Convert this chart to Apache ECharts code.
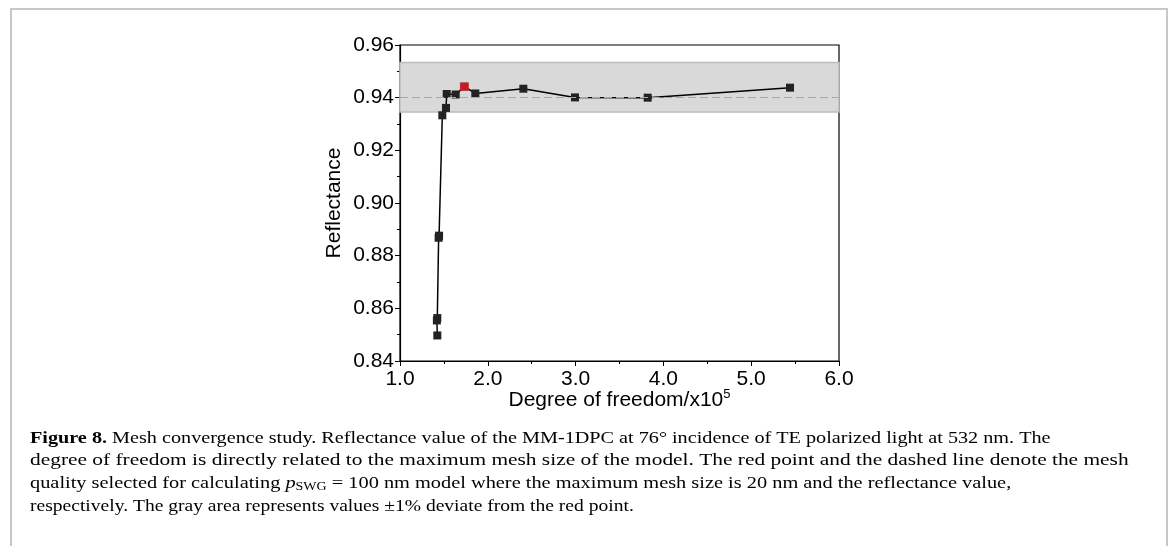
<!DOCTYPE html>
<html>
<head>
<meta charset="utf-8">
<script src="https://cdn.jsdelivr.net/npm/echarts@6/dist/echarts.min.js"></script>
<style>
html,body{margin:0;padding:0;background:#fff;}
#chart{width:1174px;height:546px;}
</style>
</head>
<body>
<div id="chart"></div>
<script>
// Degree of freedom (x10^5) and reflectance
const dof = [1.425, 1.42, 1.425, 1.44, 1.445, 1.482, 1.524, 1.532, 1.634, 1.733, 1.858, 2.405, 2.993, 3.821, 5.442];
const reflectance = [0.8497, 0.8554, 0.8563, 0.8868, 0.8876, 0.9333, 0.9361, 0.9414, 0.9412, 0.9442, 0.9416, 0.9434, 0.9401, 0.9400, 0.9438];
const selectedPoint = [1.733, 0.9442];
const selectedValue = 0.944;
const bandLow = 0.9346;
const bandHigh = 0.9534;
const xTicks = ['1.0', '2.0', '3.0', '4.0', '5.0', '6.0'];
const yTicks = ['0.84', '0.86', '0.88', '0.90', '0.92', '0.94', '0.96'];
const xTitle = 'Degree of freedom/x10{sup|5}';
const yTitle = 'Reflectance';
const captionLines = [
  '{b|Figure 8.} Mesh convergence study. Reflectance value of the MM-1DPC at 76° incidence of TE polarized light at 532 nm. The',
  'degree of freedom is directly related to the maximum mesh size of the model. The red point and the dashed line denote the mesh',
  'quality selected for calculating {i|p}{sub|SWG} = 100 nm model where the maximum mesh size is 20 nm and the reflectance value,',
  'respectively. The gray area represents values ±1% deviate from the red point.'
];
// horizontal stretch per caption line (layout only)
const captionStretch = [1.154, 1.222, 1.163, 1.117];

const chart = echarts.init(document.getElementById('chart'), null, {renderer: 'canvas'});
const axisFont = 'Liberation Sans, Arial, sans-serif';
const capFont = 'Liberation Serif, Times New Roman, serif';
const capSize = 17.5;

const option = {
  animation: false,
  backgroundColor: '#fff',
  grid: {left: 400, right: 335, top: 45, bottom: 185, show: true, borderColor: '#000', borderWidth: 1.2, backgroundColor: 'transparent'},
  xAxis: {
    type: 'value', min: 1, max: 6, interval: 1,
    axisLine: {show: true, lineStyle: {color: '#000', width: 1.2}},
    axisTick: {show: true, inside: false, length: 5, lineStyle: {color: '#000'}},
    minorTick: {show: true, splitNumber: 2, length: 3, lineStyle: {color: '#000'}},
    splitLine: {show: false},
    axisLabel: {color: '#000', fontFamily: axisFont, fontSize: 21, margin: 8,
      formatter: v => xTicks[Math.round(v - 1)]}
  },
  yAxis: {
    type: 'value', min: 0.84, max: 0.96, interval: 0.02,
    axisLine: {show: true, lineStyle: {color: '#000', width: 1.2}},
    axisTick: {show: true, inside: false, length: 5, lineStyle: {color: '#000'}},
    minorTick: {show: true, splitNumber: 2, length: 3, lineStyle: {color: '#000'}},
    splitLine: {show: false},
    axisLabel: {color: '#000', fontFamily: axisFont, fontSize: 21, margin: 6,
      formatter: v => yTicks[Math.round((v - 0.84) / 0.02)]},
    name: yTitle, nameLocation: 'middle', nameGap: 55, nameRotate: 90,
    nameTextStyle: {color: '#000', fontFamily: axisFont, fontSize: 21}
  },
  series: [
    {
      type: 'line', data: dof.map((x, i) => [x, reflectance[i]]),
      symbol: 'rect', symbolSize: [8, 8], showSymbol: true,
      lineStyle: {color: '#000', width: 1.5},
      itemStyle: {color: '#222'},
      z: 3,
      markArea: {
        silent: true,
        itemStyle: {color: '#d9d9d9', borderColor: '#bdbdbd', borderWidth: 1.5},
        data: [[{yAxis: bandLow}, {yAxis: bandHigh}]]
      },
      markLine: {
        silent: true, symbol: 'none', label: {show: false},
        lineStyle: {color: '#a8a8a8', type: [8, 4], width: 1.2},
        data: [{yAxis: selectedValue}]
      }
    },
    {
      type: 'scatter', data: [selectedPoint], symbol: 'rect', symbolSize: [9, 8],
      itemStyle: {color: '#ee1c24'}, z: 5
    }
  ],
  graphic: [
    {type: 'polyline', shape: {points: [[11, 546], [11, 9], [1167, 9], [1167, 546]]},
      style: {stroke: '#c8c8c8', lineWidth: 2, fill: null}, silent: true},
    {type: 'text', x: 619.5, y: 400,
      style: {text: xTitle, fill: '#000', font: '21px ' + axisFont, align: 'center', verticalAlign: 'middle',
        rich: {sup: {fontSize: 13, fontFamily: axisFont, verticalAlign: 'top', padding: [0, 0, 12, 0], fill: '#000'}}}}
  ].concat(captionLines.map((t, i) => ({
    type: 'text', x: 30, y: 429 + i * 22.7, scaleX: captionStretch[i], originX: 0, originY: 0,
    style: {
      text: t, fill: '#000', font: capSize + 'px ' + capFont, verticalAlign: 'top',
      rich: {
        b: {fontWeight: 'bold', fontSize: capSize, fontFamily: capFont, fill: '#000'},
        i: {fontStyle: 'italic', fontSize: capSize, fontFamily: capFont, fill: '#000'},
        sub: {fontSize: 12, fontFamily: capFont, verticalAlign: 'bottom', padding: [6, 0, 0, 0], fill: '#000'}
      }
    }
  })))
};
chart.setOption(option);
</script>
</body>
</html>
